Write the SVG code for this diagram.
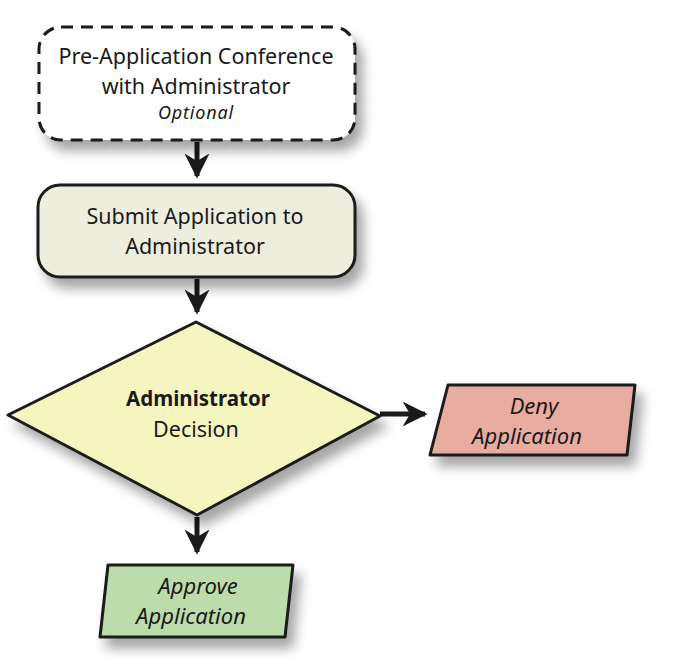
<svg xmlns="http://www.w3.org/2000/svg" width="674" height="665" viewBox="0 0 674 665">
<style>
.t{font-family:"Noto Sans","Open Sans",sans-serif;font-size:21.5px;fill:#1a1a1a;text-anchor:middle}
.i{font-style:italic;font-size:22px}
.b{font-weight:bold;font-size:20.5px}
.o{font-style:italic;font-size:18px;letter-spacing:0.8px}
.node{stroke:#1a1a1a;stroke-width:3;stroke-linejoin:round}
.conn{stroke:#1a1a1a;stroke-width:5;fill:none}
</style>
<defs>
<filter id="sh" x="-20%" y="-20%" width="150%" height="170%">
<feDropShadow dx="7" dy="10" stdDeviation="6" flood-color="#000" flood-opacity="0.35"/>
</filter>
<marker id="ah" viewBox="0 0 10 10" refX="9" refY="5" markerWidth="5" markerHeight="5" markerUnits="strokeWidth" orient="auto">
<path d="M0,0 L10,5 L0,10 L3,5 Z" fill="#1a1a1a"/>
</marker>
</defs>
<rect width="674" height="665" fill="#fff"/>
<g id="connectors">
<path class="conn" d="M197,142 V176" marker-end="url(#ah)"/>
<path class="conn" d="M197,279 V312" marker-end="url(#ah)"/>
<path class="conn" d="M380,414 H425" marker-end="url(#ah)"/>
<path class="conn" d="M197,517 V552" marker-end="url(#ah)"/>
</g>
<g id="pre-app">
<rect class="node" x="39" y="27" width="316" height="113" rx="22" fill="#fff" stroke-dasharray="12 8" filter="url(#sh)"/>
<text class="t" x="196" y="64">Pre-Application Conference</text>
<text class="t" x="196" y="94">with Administrator</text>
<text class="t o" x="196" y="119">Optional</text>
</g>
<g id="submit">
<rect class="node" x="38" y="185" width="317" height="92" rx="22" fill="#eeeedf" filter="url(#sh)"/>
<text class="t" x="195" y="224">Submit Application to</text>
<text class="t" x="195" y="254">Administrator</text>
</g>
<g id="decision">
<polygon class="node" points="196,322 380,416 197,515 8,415" fill="#f5f5c0" filter="url(#sh)"/>
<text class="t b" x="198" y="406">Administrator</text>
<text class="t" x="196" y="437">Decision</text>
</g>
<g id="deny">
<polygon class="node" points="448,385 635,385 627,455 430,455" fill="#e8aca0" filter="url(#sh)"/>
<text class="t i" x="534" y="414">Deny</text>
<text class="t i" x="527" y="444">Application</text>
</g>
<g id="approve">
<polygon class="node" points="108,565 293,565 285,637 100,637" fill="#bddcab" filter="url(#sh)"/>
<text class="t i" x="198" y="594">Approve</text>
<text class="t i" x="191" y="624">Application</text>
</g>
</svg>
